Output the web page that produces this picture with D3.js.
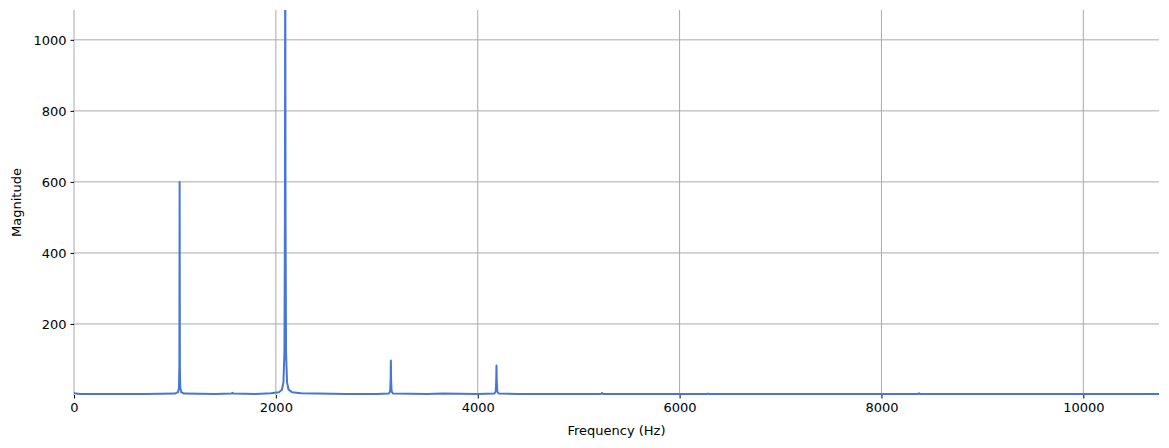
<!DOCTYPE html>
<html>
<head>
<meta charset="utf-8">
<script src="https://cdn.jsdelivr.net/npm/d3@7"></script>
<style>
  body { margin: 0; background: #fff; }
  text { font-family: "DejaVu Sans", sans-serif; }
</style>
</head>
<body>
<div id="chart"></div>
<script>
// spectrum (Hz, magnitude)
var freqs = [0, 20, 60, 300, 700, 1000, 1030, 1040, 1044, 1046.5, 1049, 1053, 1063, 1090,
  1400, 1560, 1570, 1580, 1800, 1950, 2030, 2060, 2075, 2085, 2090, 2093, 2096, 2101,
  2111, 2126, 2160, 2250, 2400, 2700, 3000, 3120, 3132, 3137, 3139.5, 3142, 3147, 3160,
  3500, 3650, 4000, 4165, 4178, 4183, 4186, 4189, 4194, 4207, 4400, 5000, 5222, 5232,
  5242, 6000, 6270, 6280, 6290, 7000, 7325, 8000, 8362, 8372, 8382, 9000, 9420, 10000, 10766];
var mags = [6, 4, 3, 3, 3, 4, 8, 20, 80, 600, 80, 20, 8, 4,
  3, 4, 6, 4, 3, 5, 8, 15, 35, 120, 500, 1400, 500, 120,
  35, 15, 8, 5, 4, 3, 3, 4, 10, 40, 97, 40, 10, 4,
  3, 4, 3, 4, 10, 38, 83, 38, 10, 4, 3, 3, 3, 6,
  3, 3, 3, 4, 3, 3, 3, 3, 3, 5, 3, 3, 3, 3, 3];
var xTicks = [0, 2000, 4000, 6000, 8000, 10000];
var yTicks = [200, 400, 600, 800, 1000];

var svgWidth = 1169;
var svgHeight = 448;
var margin = { top: 10, right: 10, bottom: 53, left: 74 };
var width = svgWidth - margin.left - margin.right;
var height = svgHeight - margin.top - margin.bottom;

var svg = d3.select("#chart")
  .append("svg")
  .attr("width", svgWidth)
  .attr("height", svgHeight);

var chartGroup = svg.append("g")
  .attr("transform", `translate(${margin.left}, ${margin.top})`);

var data = freqs.map((f, i) => ({ f: f, m: mags[i] }));

var xScale = d3.scaleLinear().domain([0, 10750]).range([0, width]);
var yScale = d3.scaleLinear().domain([0, 1084]).range([height, 0]);

// grid
chartGroup.append("g")
  .selectAll("line")
  .data(xTicks)
  .enter()
  .append("line")
  .attr("x1", d => xScale(d)).attr("x2", d => xScale(d))
  .attr("y1", 0).attr("y2", height)
  .attr("stroke", "#aaaaaa").attr("stroke-width", 1);

chartGroup.append("g")
  .selectAll("line")
  .data(yTicks)
  .enter()
  .append("line")
  .attr("x1", 0).attr("x2", width)
  .attr("y1", d => yScale(d)).attr("y2", d => yScale(d))
  .attr("stroke", "#aaaaaa").attr("stroke-width", 1);

// axes without spines
var bottomAxis = d3.axisBottom(xScale).tickValues(xTicks).tickFormat(d3.format("d"))
  .tickSize(3.5).tickPadding(4);
var leftAxis = d3.axisLeft(yScale).tickValues(yTicks).tickFormat(d3.format("d"))
  .tickSize(3.5).tickPadding(4);

var xAxis = chartGroup.append("g")
  .attr("transform", `translate(0, ${height})`)
  .call(bottomAxis);
var yAxis = chartGroup.append("g").call(leftAxis);

[xAxis, yAxis].forEach(function(ax) {
  ax.select(".domain").remove();
  ax.selectAll("text").style("font-size", "13px").attr("fill", "#000");
  ax.selectAll(".tick line").attr("stroke", "#000");
});

// line
chartGroup.append("clipPath").attr("id", "clip")
  .append("rect").attr("width", width).attr("height", height);

var line = d3.line()
  .x(d => xScale(d.f))
  .y(d => yScale(d.m));

chartGroup.append("path")
  .datum(data)
  .attr("clip-path", "url(#clip)")
  .attr("fill", "none")
  .attr("stroke", "#4677d6")
  .attr("stroke-width", 2)
  .attr("stroke-linejoin", "round")
  .attr("d", line);

// labels
svg.append("text")
  .attr("x", margin.left + width / 2)
  .attr("y", 435)
  .attr("text-anchor", "middle")
  .style("font-size", "13px")
  .text("Frequency (Hz)");

svg.append("text")
  .attr("transform", `translate(21, ${margin.top + height / 2}) rotate(-90)`)
  .attr("text-anchor", "middle")
  .style("font-size", "13px")
  .text("Magnitude");
</script>
</body>
</html>
